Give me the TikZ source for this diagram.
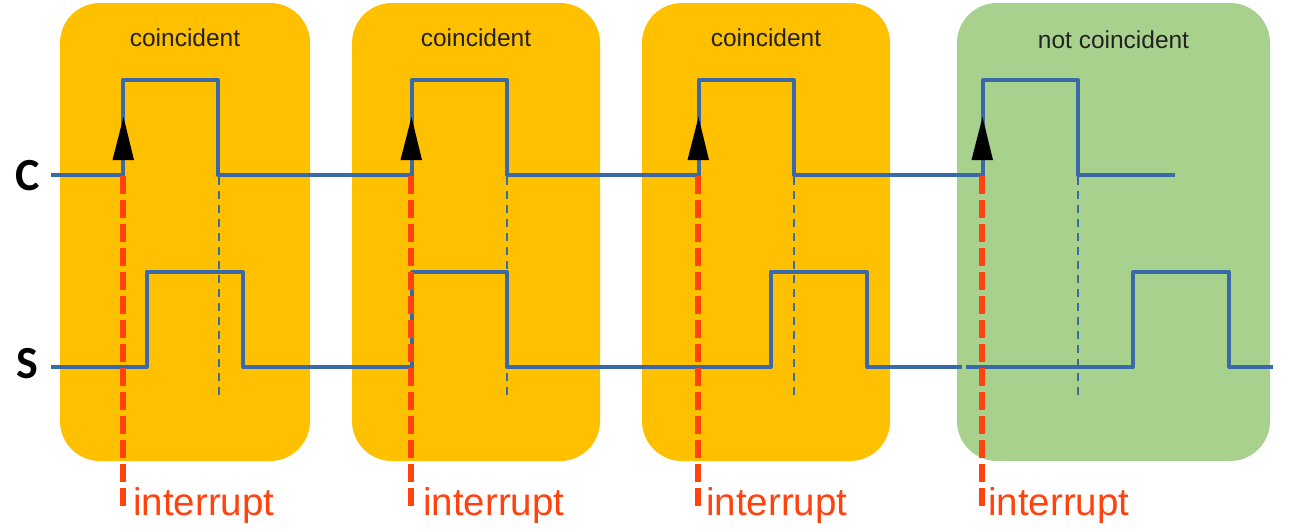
\documentclass[tikz,border=0pt]{standalone}
\usepackage{fontspec}
\setmainfont{Liberation Sans}
\newfontfamily\calib{Carlito}
\definecolor{boxor}{HTML}{FFC000}
\definecolor{boxgr}{HTML}{A9D18E}
\definecolor{wave}{HTML}{3A69A8}
\definecolor{intred}{HTML}{FF420E}
\definecolor{ttl}{HTML}{222222}
\tikzset{
  winbox/.style={rounded corners=40pt, minimum height=458pt, inner sep=0pt, draw=none},
  title/.style={anchor=base, text=ttl, font=\fontsize{24.5}{28}\selectfont},
  sig/.style={anchor=center, font=\calib\bfseries\fontsize{46}{50}\selectfont},
  intlbl/.style={anchor=base west, text=intred, inner sep=0pt, font=\fontsize{38.5}{42}\selectfont},
  wavel/.style={draw=wave, line width=4pt, line join=round},
  guide/.style={draw=wave, line width=2pt, dash pattern=on 8pt off 6pt},
  irq/.style={draw=intred, line width=5.5pt, dash pattern=on 18pt off 6pt},
}
\begin{document}
\begin{tikzpicture}[x=1pt,y=-1pt]
\useasboundingbox (0,0) rectangle (1293,531);
% windows
\node[winbox, fill=boxor, minimum width=250pt] (b1) at (185,232) {};
\node[winbox, fill=boxor, minimum width=248pt] (b2) at (476,232) {};
\node[winbox, fill=boxor, minimum width=248pt] (b3) at (766,232) {};
\node[winbox, fill=boxgr, minimum width=313pt] (b4) at (1113.5,232) {};
\node[title] (t1) at (185,46) {coincident};
\node[title] (t2) at (476,46) {coincident};
\node[title] (t3) at (766,46) {coincident};
\node[title] (t4) at (1113.5,48) {not coincident};
% signal labels
\node[sig] (lc) at (27.5,176) {C};
\node[sig] (ls) at (27.5,364) {S};
% waveforms
\draw[wavel] (51,175) -- (123,175) -- (123,80) -- (218,80) -- (218,175) -- (412,175) -- (412,80) -- (507,80) -- (507,175) -- (699,175) -- (699,80) -- (794,80) -- (794,175) -- (983,175) -- (983,80) -- (1078,80) -- (1078,175) -- (1175,175);
\draw[wavel] (51,367) -- (147,367) -- (147,272) -- (243,272) -- (243,367) -- (412,367) -- (412,272) -- (507,272) -- (507,367) -- (771,367) -- (771,272) -- (867,272) -- (867,367) -- (962,367);
\draw[wavel] (966,367) -- (1133,367) -- (1133,272) -- (1229,272) -- (1229,367) -- (1273,367);
% guides at falling edges
\draw[guide] (219,177) -- (219,397);
\draw[guide] (507,177) -- (507,397);
\draw[guide] (794,177) -- (794,397);
\draw[guide] (1078,177) -- (1078,397);
% interrupts
\foreach \i/\x/\tx in {1/123/133, 2/411/423, 3/698/706, 4/982/988}{
  \coordinate (r\i top) at (\x,176);
  \coordinate (r\i bot) at (\x,510);
  \node[intlbl] (il\i) at (\tx,515) {interrupt};
  \draw[irq] (r\i top) -- (r\i bot);
  \coordinate (a\i tip) at (\x+0.5,117);
  \coordinate (a\i l) at (\x-10.5,160);
  \coordinate (a\i r) at (\x+11,160);
  \fill[black] (a\i tip) -- (a\i l) -- (a\i r) -- cycle;
}
\end{tikzpicture}
\end{document}
